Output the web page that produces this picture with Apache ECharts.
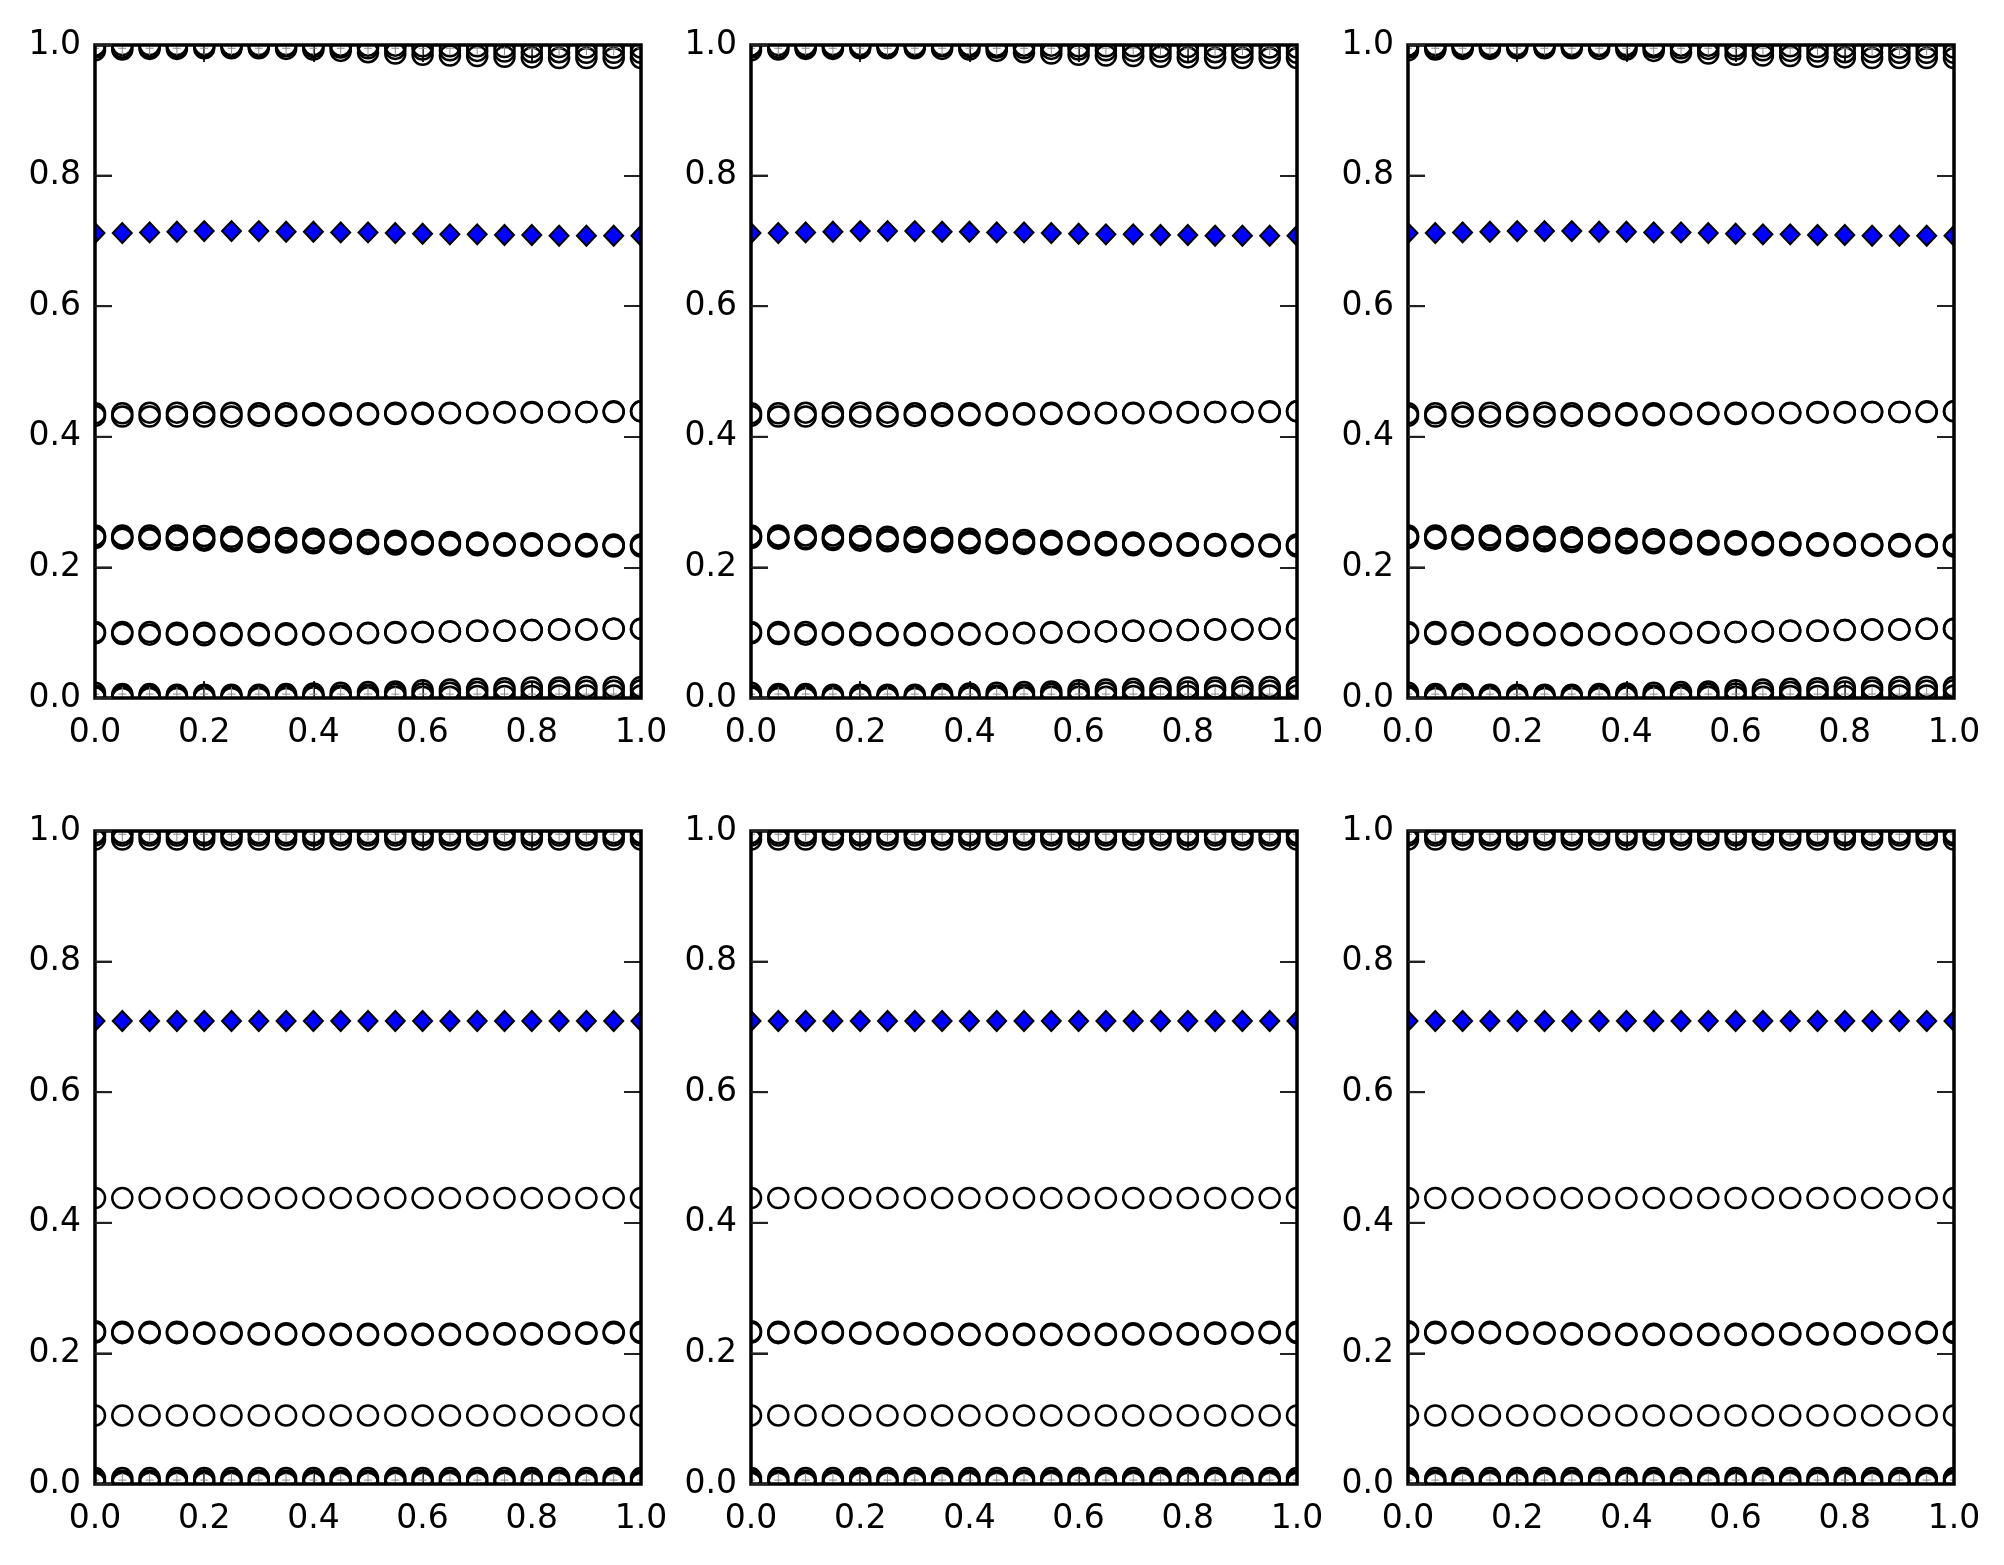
<!DOCTYPE html>
<html>
<head>
<meta charset="utf-8">
<script src="https://cdn.jsdelivr.net/npm/echarts@6/dist/echarts.min.js"></script>
<style>html,body{margin:0;padding:0;background:#fff}#chart{width:2004px;height:1565px}</style>
</head>
<body>
<div id="chart"></div>
<script>
// ---------------- data ----------------
const xValues = [0.00,0.05,0.10,0.15,0.20,0.25,0.30,0.35,0.40,0.45,0.50,0.55,0.60,0.65,0.70,0.75,0.80,0.85,0.90,0.95,1.00];
const tickLabels = ['0.0','0.2','0.4','0.6','0.8','1.0'];
const tickValues = [0.0,0.2,0.4,0.6,0.8,1.0];

// top row panels (identical in the three columns)
const r1Top1 = [0.999,1.000,1.000,1.000,1.000,1.000,1.000,1.000,1.000,0.999,0.999,0.999,0.998,0.998,0.998,0.997,0.997,0.997,0.996,0.996,0.996];
const r1Top2 = [0.996,0.996,0.997,0.997,0.998,0.998,0.998,0.998,0.997,0.996,0.995,0.994,0.993,0.992,0.991,0.990,0.989,0.989,0.988,0.988,0.988];
const r1Top3 = [0.992,0.993,0.994,0.994,0.995,0.995,0.995,0.994,0.993,0.991,0.989,0.987,0.985,0.984,0.983,0.982,0.981,0.980,0.980,0.980,0.980];
const r1Diamond = [0.712,0.712,0.713,0.714,0.715,0.715,0.715,0.714,0.714,0.713,0.713,0.712,0.711,0.710,0.710,0.709,0.709,0.708,0.708,0.708,0.708];
const r1Upper1 = [0.432,0.431,0.431,0.431,0.431,0.431,0.432,0.432,0.433,0.433,0.434,0.435,0.435,0.436,0.436,0.437,0.437,0.438,0.438,0.438,0.439];
const r1Upper2 = [0.436,0.436,0.437,0.437,0.437,0.437,0.436,0.436,0.436,0.436,0.436,0.437,0.437,0.437,0.437,0.438,0.438,0.438,0.438,0.439,0.439];
const r1Mid1 = [0.249,0.249,0.249,0.249,0.248,0.247,0.246,0.245,0.244,0.243,0.242,0.241,0.240,0.239,0.238,0.237,0.237,0.236,0.236,0.235,0.235];
const r1Mid2 = [0.247,0.246,0.245,0.245,0.244,0.243,0.242,0.241,0.240,0.239,0.238,0.238,0.237,0.236,0.236,0.235,0.235,0.234,0.234,0.234,0.234];
const r1Mid3 = [0.245,0.244,0.243,0.242,0.241,0.240,0.239,0.238,0.237,0.237,0.236,0.235,0.235,0.234,0.234,0.233,0.233,0.233,0.232,0.232,0.232];
const r1Low1 = [0.099,0.098,0.097,0.097,0.096,0.096,0.096,0.097,0.097,0.098,0.099,0.100,0.101,0.102,0.103,0.103,0.104,0.105,0.105,0.106,0.106];
const r1Low2 = [0.101,0.101,0.101,0.100,0.100,0.099,0.099,0.099,0.099,0.099,0.100,0.101,0.101,0.102,0.103,0.103,0.104,0.105,0.105,0.106,0.106];
const r1Bot1 = [0.001,0.000,0.000,0.000,0.000,0.000,0.000,0.000,0.001,0.001,0.001,0.002,0.002,0.002,0.003,0.003,0.003,0.004,0.004,0.004,0.004];
const r1Bot2 = [0.004,0.003,0.003,0.003,0.002,0.002,0.002,0.003,0.003,0.004,0.005,0.006,0.007,0.008,0.009,0.010,0.010,0.011,0.011,0.011,0.012];
const r1Bot3 = [0.008,0.006,0.006,0.005,0.005,0.005,0.005,0.006,0.007,0.008,0.009,0.010,0.012,0.013,0.014,0.015,0.016,0.016,0.017,0.017,0.017];
const r1PlusTop = [0.995,0.995,0.995,0.995,0.995,0.995,0.995,0.995,0.995,0.995,0.995,0.995,0.995,0.995,0.995,0.995,0.995,0.995,0.995,0.995,0.995];
const r1PlusBot = [0.006,0.006,0.006,0.006,0.006,0.006,0.006,0.006,0.006,0.006,0.006,0.006,0.006,0.006,0.006,0.006,0.006,0.006,0.006,0.006,0.006];

// bottom row panels (identical in the three columns)
const r2Top1 = [0.997,0.997,0.997,0.997,0.997,0.997,0.997,0.997,0.997,0.997,0.997,0.997,0.997,0.997,0.997,0.997,0.997,0.997,0.997,0.997,0.997];
const r2Top2 = [0.993,0.993,0.993,0.993,0.993,0.993,0.993,0.993,0.993,0.993,0.993,0.993,0.993,0.993,0.993,0.993,0.993,0.993,0.993,0.993,0.993];
const r2Top3 = [0.987,0.987,0.987,0.987,0.987,0.987,0.987,0.987,0.987,0.987,0.987,0.987,0.987,0.987,0.987,0.987,0.987,0.987,0.987,0.987,0.987];
const r2Diamond = [0.709,0.709,0.709,0.709,0.709,0.709,0.709,0.709,0.709,0.709,0.709,0.709,0.709,0.709,0.709,0.709,0.709,0.709,0.709,0.709,0.709];
const r2Upper = [0.438,0.438,0.438,0.438,0.438,0.438,0.438,0.438,0.438,0.438,0.438,0.438,0.438,0.438,0.438,0.438,0.438,0.438,0.438,0.438,0.438];
const r2Mid1 = [0.234,0.233,0.233,0.233,0.232,0.232,0.231,0.231,0.230,0.230,0.230,0.230,0.230,0.230,0.231,0.231,0.231,0.232,0.232,0.233,0.233];
const r2Mid2 = [0.232,0.231,0.231,0.231,0.230,0.230,0.229,0.229,0.228,0.228,0.228,0.228,0.228,0.228,0.229,0.229,0.229,0.230,0.230,0.231,0.231];
const r2Low = [0.105,0.105,0.105,0.105,0.105,0.105,0.105,0.105,0.105,0.105,0.105,0.105,0.105,0.105,0.105,0.105,0.105,0.105,0.105,0.105,0.105];
const r2Bot1 = [0.002,0.002,0.002,0.002,0.002,0.002,0.002,0.002,0.002,0.002,0.002,0.002,0.002,0.002,0.002,0.002,0.002,0.002,0.002,0.002,0.002];
const r2Bot2 = [0.005,0.005,0.005,0.005,0.005,0.005,0.005,0.005,0.005,0.005,0.005,0.005,0.005,0.005,0.005,0.005,0.005,0.005,0.005,0.005,0.005];
const r2Bot3 = [0.009,0.009,0.009,0.009,0.009,0.009,0.009,0.009,0.009,0.009,0.009,0.009,0.009,0.009,0.009,0.009,0.009,0.009,0.009,0.009,0.009];
const r2PlusTop = r1PlusTop;
const r2PlusBot = r1PlusBot;

const rowCircles = [
  [r1Top1,r1Top2,r1Top3,r1Upper1,r1Upper2,r1Mid1,r1Mid2,r1Mid3,r1Low1,r1Low2,r1Bot1,r1Bot2,r1Bot3],
  [r2Top1,r2Top2,r2Top3,r2Upper,r2Mid1,r2Mid2,r2Low,r2Bot1,r2Bot2,r2Bot3]
];
const rowDiamonds = [r1Diamond, r2Diamond];
const rowPlus = [[r1PlusTop,r1PlusBot],[r2PlusTop,r2PlusBot]];

// ---------------- layout ----------------
const FONT = 'DejaVu Sans';
const colLeft = [95, 751, 1408];
const rowTop = [45, 831];
const W = 546, H = 653;
const TICK_LEN = 17;

const grids = [], xAxes = [], yAxes = [], series = [];

function pts(arr){ return xValues.map((x,i)=>[x, arr[i]]); }

function circleItem(params, api){
  const p = api.coord([api.value(0), api.value(1)]);
  return {type:'circle', shape:{cx:p[0], cy:p[1], r:10}, style:{fill:'none', stroke:'#000', lineWidth:2.5}};
}
function diamondItem(params, api){
  const p = api.coord([api.value(0), api.value(1)]);
  return {type:'polygon', shape:{points:[[p[0],p[1]-10],[p[0]+9.5,p[1]],[p[0],p[1]+10],[p[0]-9.5,p[1]]]},
    style:{fill:'#0000ff', stroke:'#000', lineWidth:2}};
}
function plusItem(params, api){
  const p = api.coord([api.value(0), api.value(1)]);
  return {type:'group', children:[
    {type:'line', shape:{x1:p[0], y1:p[1]-7, x2:p[0], y2:p[1]+7}, style:{stroke:'#888', lineWidth:1}},
    {type:'line', shape:{x1:p[0]-4, y1:p[1], x2:p[0]+4, y2:p[1]}, style:{stroke:'#888', lineWidth:1}}
  ]};
}
// inward tick marks on the left edge, placed through the y scale
function leftTickItem(params, api){
  const p = api.coord([0, api.value(0)]);
  return {type:'line', shape:{x1:p[0], y1:p[1], x2:p[0]+TICK_LEN, y2:p[1]}, style:{stroke:'#222', lineWidth:2}};
}
function axis(g, pos, labelMargin, inverse, zeroIdx){
  const a = {type:'value', min:0, max:1, interval:0.2, gridIndex:g, position:pos, inverse:inverse,
    splitLine:{show:false},
    axisLine:{show:false, onZero:true, onZeroAxisIndex:zeroIdx},
    axisTick:{show:true, inside:true, length:TICK_LEN, lineStyle:{color:'#222', width:2}}};
  a.axisLabel = labelMargin == null ? {show:false} :
    {show:true, margin:labelMargin, color:'#000', fontFamily:FONT, fontSize:33, formatter:(v)=>tickLabels[Math.round(v*5)]};
  return a;
}

let g = 0;
for (let r = 0; r < 2; r++) {
  for (let c = 0; c < 3; c++) {
    grids.push({left: colLeft[c], top: rowTop[r], width: W, height: H, show: true,
      borderColor: '#000', borderWidth: 3.5, backgroundColor: 'transparent', z: 5});
    const xb = xAxes.length, xt = xb + 1, yl = yAxes.length, yr = yl + 1;
    xAxes.push(axis(g, 'bottom', 19, false, yl));
    xAxes.push(axis(g, 'top', null, true, yr));
    yAxes.push(axis(g, 'left', 14, false, xb));
    yAxes.push(axis(g, 'right', null, true, xt));
    rowCircles[r].forEach(arr => series.push({type:'custom', xAxisIndex:xb, yAxisIndex:yl, clip:true, z:2,
      renderItem:circleItem, data:pts(arr), silent:true}));
    series.push({type:'custom', xAxisIndex:xb, yAxisIndex:yl, clip:true, z:3,
      renderItem:diamondItem, data:pts(rowDiamonds[r]), silent:true});
    rowPlus[r].forEach(arr => series.push({type:'custom', xAxisIndex:xb, yAxisIndex:yl, clip:true, z:4,
      renderItem:plusItem, data:pts(arr), silent:true}));
    series.push({type:'custom', xAxisIndex:xb, yAxisIndex:yl, clip:false, z:6,
      renderItem:leftTickItem, data:tickValues.map(v=>[v]), encode:{y:0}, silent:true});
    g++;
  }
}

const chart = echarts.init(document.getElementById('chart'), null, {renderer:'canvas'});
chart.setOption({animation:false, backgroundColor:'#fff', grid:grids, xAxis:xAxes, yAxis:yAxes, series:series});
</script>
</body>
</html>
